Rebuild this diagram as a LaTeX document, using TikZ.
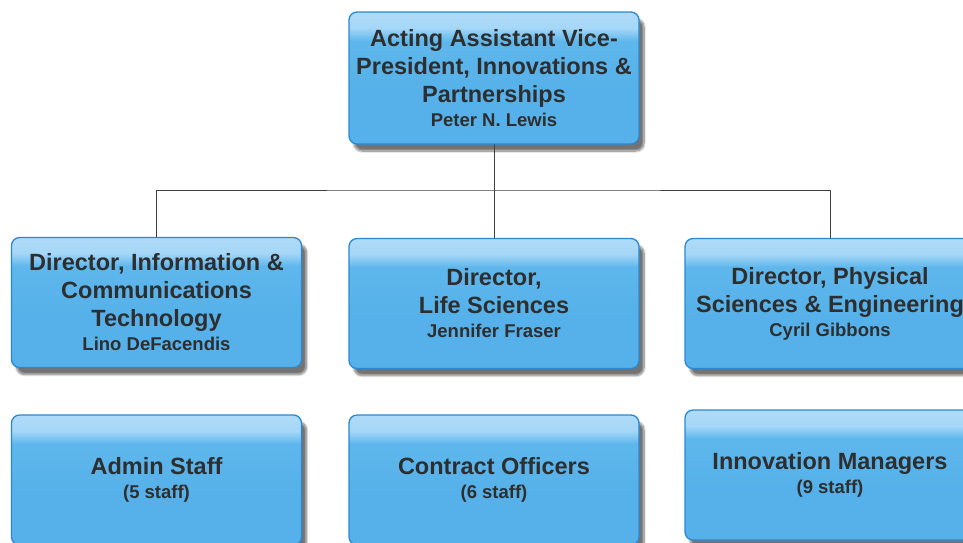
\documentclass[tikz,border=0pt]{standalone}
\usepackage{fontspec}
\setmainfont{Liberation Sans}
\usetikzlibrary{shadows.blur}
\definecolor{boxline}{HTML}{2A88D2}
\definecolor{boxtext}{HTML}{2E2E2E}
\definecolor{glosstop}{HTML}{D2EAFB}
\definecolor{glossmid}{HTML}{A6D7F7}
\definecolor{boxmid}{HTML}{5EB7EC}
\definecolor{boxlow}{HTML}{56B1EA}
\definecolor{boxband}{HTML}{86CAF3}
\pgfdeclareverticalshading{gloss}{100bp}{color(0bp)=(boxband); color(5bp)=(boxband); color(9bp)=(boxlow);
  color(45bp)=(boxlow); color(64bp)=(boxmid); color(69bp)=(glossmid); color(100bp)=(glosstop)}
\newcommand{\titlefont}{\fontsize{23.5}{28}\selectfont\bfseries}
\newcommand{\namefont}{\fontsize{18.5}{22}\selectfont\bfseries}
\newcommand{\unit}[2]{#1\\[-4pt]{\namefont #2}}
\begin{document}
\begin{tikzpicture}[x=1pt,y=-1pt, line join=round, line cap=round,
    orgbox/.style={draw=boxline, line width=1.3pt, rounded corners=8pt, shading=gloss,
        minimum width=290pt, minimum height=130pt, align=center, text=boxtext, font=\titlefont,
        blur shadow={shadow xshift=5pt, shadow yshift=-7pt, shadow blur steps=10, shadow opacity=55}},
    link/.style={draw=black!75, line width=0.7pt}]
    \clip (0,0) rectangle (963,542);
    %Hàng 1
    \node[orgbox, minimum height=132pt] (avp) at (494,78) {Acting Assistant Vice-\\President, Innovations \&\\Partnerships\\[-4pt]{\namefont Peter N. Lewis}};
    %Hàng 2
    \node[orgbox] (ict) at (156.5,302.5) {\unit{Director, Information \&\\Communications\\Technology}{Lino DeFacendis}};
    \node[orgbox] (life) at (494,303.5) {\unit{Director,\\Life Sciences}{Jennifer Fraser}};
    \node[orgbox] (phys) at (830,303.5) {\unit{Director, Physical\\Sciences \& Engineering}{Cyril Gibbons}};
    %Hàng 3
    \node[orgbox] (admin) at (156.5,480) {\unit{Admin Staff}{(5 staff)}};
    \node[orgbox] (contract) at (494,480) {\unit{Contract Officers}{(6 staff)}};
    \node[orgbox] (innov) at (830,475) {\unit{Innovation Managers}{(9 staff)}};
    %Nối
    \coordinate (bus) at (494,190);
    \draw[link] (avp.south) -- (life.north);
    \draw[link] (ict.north) |- (bus) -| (phys.north);
\end{tikzpicture}
\end{document}
